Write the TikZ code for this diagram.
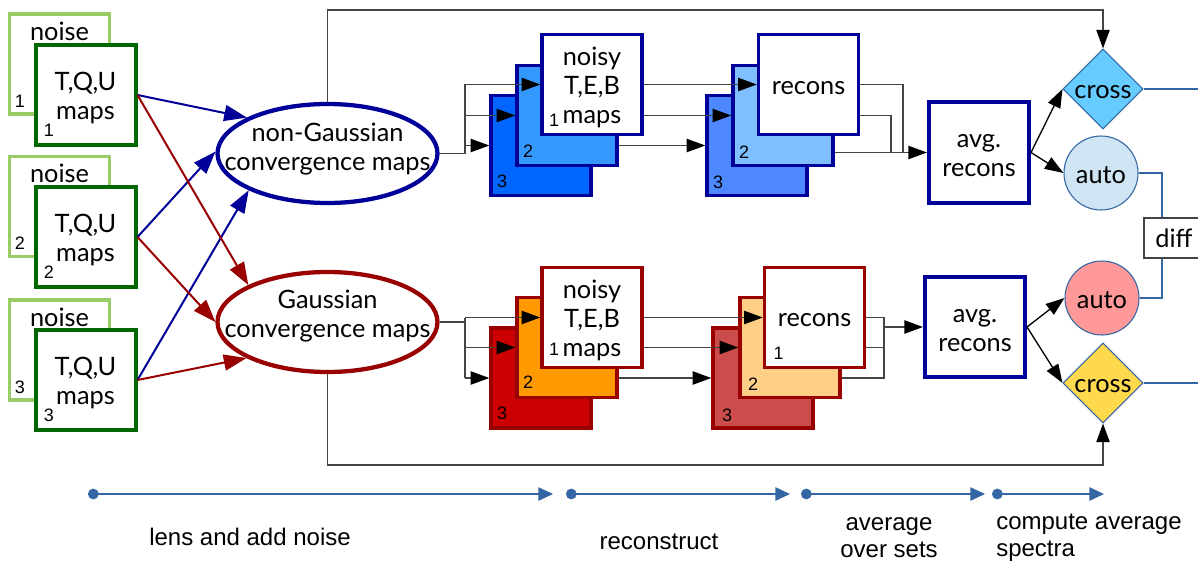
\documentclass[tikz,border=0pt]{standalone}
\usepackage{fontspec}
\setmainfont{Lato}
\newfontfamily\numfont{Liberation Sans}
\usetikzlibrary{shapes.geometric,arrows.meta}
\definecolor{lgreen}{HTML}{99CC66}
\definecolor{dgreen}{HTML}{006600}
\definecolor{bnavy}{HTML}{000099}
\definecolor{rdark}{HTML}{990000}
\definecolor{bthree}{HTML}{0066FF}
\definecolor{btwo}{HTML}{3399FF}
\definecolor{rbthree}{HTML}{4D88FF}
\definecolor{rbtwo}{HTML}{80BFFF}
\definecolor{rthree}{HTML}{CC0000}
\definecolor{rtwo}{HTML}{FF9900}
\definecolor{rrthree}{HTML}{CC4C4C}
\definecolor{rrtwo}{HTML}{FFCF87}
\definecolor{dgrey}{HTML}{444444}
\definecolor{lblue}{HTML}{3465A4}
\definecolor{crossblue}{HTML}{66CCFF}
\definecolor{crossyellow}{HTML}{FFD94D}
\definecolor{autoblue}{HTML}{CFE5F3}
\definecolor{autored}{HTML}{FF9999}
\begin{document}
\begin{tikzpicture}[x=0.75pt,y=-0.75pt,
  sq/.style={minimum width=75pt,minimum height=75pt,inner sep=0pt},
  lbl/.style={font=\fontsize{19}{21.75}\selectfont,align=center,inner sep=0pt},
  noisebox/.style={sq,draw=lgreen,line width=2.5pt,fill=white},
  tqubox/.style={sq,draw=dgreen,line width=3pt,fill=white},
  bstack/.style={sq,draw=bnavy,line width=2.6pt},
  rstack/.style={sq,draw=rdark,line width=2.6pt},
  avgbox/.style={sq,draw=bnavy,line width=3pt,fill=white},
  num/.style={font=\numfont\fontsize{13.5}{15}\selectfont,inner sep=0pt},
  thinline/.style={draw=dgrey,line width=1pt},
  tip/.style={-{Triangle[length=14pt,width=10pt,color=black]}},
  carrow/.style={line width=1.5pt,-{Triangle[length=17pt,width=12pt]}},
  bline/.style={draw=lblue,line width=1pt},
  tline/.style={draw=lblue,line width=1.2pt,{Circle[length=8pt,width=8pt]}-{Triangle[length=11pt,width=10pt]}},
  tlabel/.style={font=\numfont\fontsize{18}{20.25}\selectfont,inner sep=0pt}
]
\useasboundingbox (0,0) rectangle (1198,563);

% input sets
\foreach \i/\ny/\ty in {1/64/95,2/206.5/237,3/350/380}{
  \node[noisebox] (noise\i) at (59.5,\ny) {};
  \node[lbl] (noiselbl\i) at (59.5,\ny-33) {noise};
  \node[num] (noisenum\i) at (20,\ny+37) {\i};
  \node[tqubox] (tqu\i) at (85.5,\ty) {};
  \node[lbl] (tqutxt\i) at ([yshift=-2.5pt]tqu\i.center) {T,Q,U\\maps};
  \node[num] (tqunum\i) at (49,\ty+35) {\i};
}

% convergence ellipses
\node[ellipse,draw=bnavy,line width=3.2pt,fill=white,minimum width=165pt,minimum height=74.25pt,inner sep=0pt] (ng) at (327.5,153.5) {};
\node[lbl] (ngt) at (327.5,149) {non-Gaussian\\convergence maps};
\node[ellipse,draw=rdark,line width=3.2pt,fill=white,minimum width=165pt,minimum height=75pt,inner sep=0pt] (g) at (327.5,322) {};
\node[lbl] (gt) at (327.5,316) {Gaussian\\convergence maps};

% coloured arrows
\draw[carrow,bnavy] (tqu1.east) -- (ng.156);
\draw[carrow,bnavy] (tqu2.east) -- (ng.179);
\draw[carrow,bnavy] (tqu3.east) -- (ng.205);
\draw[carrow,rdark] (tqu1.east) -- (g.155);
\draw[carrow,rdark] (tqu2.east) -- (g.180);
\draw[carrow,rdark] (tqu3.east) -- (g.204);

% blue stacks
\node[bstack,fill=bthree] (nb3) at (541,145.5) {};
\node[bstack,fill=btwo] (nb2) at (567,115.5) {};
\node[bstack,fill=white] (nb1) at (592,84.5) {};
\node[lbl] (nb1t) at ([yshift=-2.5pt]nb1.center) {noisy\\T,E,B\\maps};
\node[num] (nb3n) at ([shift={(-39,36)}]nb3.center) {3};
\node[num] (nb2n) at ([shift={(-39,36)}]nb2.center) {2};
\node[num] (nb1n) at ([shift={(-38,36)}]nb1.center) {1};
\node[bstack,fill=rbthree] (rb3) at (757,145.5) {};
\node[bstack,fill=rbtwo] (rb2) at (783,115.5) {};
\node[bstack,fill=white] (rb1) at (808.5,84.5) {};
\node[lbl] (rb1t) at ([yshift=-3pt]rb1.center) {recons};
\node[num] (rb3n) at ([shift={(-39,37)}]rb3.center) {3};
\node[num] (rb2n) at ([shift={(-39,37)}]rb2.center) {2};

% red stacks
\node[rstack,fill=rthree] (nr3) at (541,378) {};
\node[rstack,fill=rtwo] (nr2) at (567,347.5) {};
\node[rstack,fill=white] (nr1) at (592,317.5) {};
\node[lbl] (nr1t) at ([yshift=-2.5pt]nr1.center) {noisy\\T,E,B\\maps};
\node[num] (nr3n) at ([shift={(-39,35)}]nr3.center) {3};
\node[num] (nr2n) at ([shift={(-39,35)}]nr2.center) {2};
\node[num] (nr1n) at ([shift={(-38,32)}]nr1.center) {1};
\node[rstack,fill=rrthree] (rr3) at (763,378) {};
\node[rstack,fill=rrtwo] (rr2) at (790,347.5) {};
\node[rstack,fill=white] (rr1) at (814.5,317.5) {};
\node[lbl] (rr1t) at ([yshift=-2pt]rr1.center) {recons};
\node[num] (rr3n) at ([shift={(-36,37)}]rr3.center) {3};
\node[num] (rr2n) at ([shift={(-37,37)}]rr2.center) {2};
\node[num] (rr1n) at ([shift={(-36,36)}]rr1.center) {1};

% average boxes
\node[avgbox] (avgb) at (979,152.5) {};
\node[lbl] (avgbt) at ([yshift=-2.5pt]avgb.center) {avg.\\recons};
\node[avgbox] (avgr) at (975,327) {};
\node[lbl] (avgrt) at ([yshift=-2.5pt]avgr.center) {avg.\\recons};

% spectra
\node[diamond,draw=lblue,line width=0.8pt,fill=crossblue,minimum width=60pt,minimum height=60pt,inner sep=0pt] (crossb) at (1103,89) {};
\node[lbl] (crossbt) at ([yshift=-2pt]crossb.center) {cross};
\node[circle,draw=lblue,line width=0.8pt,fill=autoblue,minimum size=55.5pt,inner sep=0pt] (autob) at (1101,173) {};
\node[lbl] (autobt) at ([yshift=-1.5pt]autob.center) {auto};
\node[circle,draw=lblue,line width=0.8pt,fill=autored,minimum size=55.5pt,inner sep=0pt] (autor) at (1102,298) {};
\node[lbl] (autort) at ([yshift=-1.5pt]autor.center) {auto};
\node[diamond,draw=lblue,line width=0.8pt,fill=crossyellow,minimum width=60pt,minimum height=60pt,inner sep=0pt] (crossr) at (1103,383) {};
\node[lbl] (crossrt) at ([yshift=-2pt]crossr.center) {cross};
\node[lbl,draw=dgrey,line width=0.8pt,fill=white,minimum width=45pt,minimum height=30pt] (diff) at (1174,238) {diff};

% loops to cross
\coordinate (topy) at (0,10);
\coordinate (boty) at (0,465);
\draw[thinline,tip] (ng.north) -- (ng.north |- topy) -| (crossb.north);
\draw[thinline,tip] (g.south) -- (g.south |- boty) -| (crossr.south);

% ellipse to noisy stacks
\coordinate (bj) at (465,153.5);
\draw[thinline] (ng.east) -- (bj) -- (bj |- nb1);
\draw[thinline,tip] (bj |- nb1) -- (nb1.west);
\draw[thinline,tip] (bj |- nb2) -- (nb2.west);
\draw[thinline,tip] (bj |- nb3) -- (nb3.west);
\coordinate (rj) at (465,322);
\draw[thinline] (g.east) -- (rj);
\draw[thinline] (rj |- nr1) -- (rj |- nr3);
\draw[thinline,tip] (rj |- nr1) -- (nr1.west);
\draw[thinline,tip] (rj |- nr2) -- (nr2.west);
\draw[thinline,tip] (rj |- nr3) -- (nr3.west);

% noisy to recons
\draw[thinline,tip] (nb1.east) -- (rb1.west);
\draw[thinline,tip] (nb1.east |- rb2) -- (rb2.west);
\draw[thinline,tip] (nb2.east |- rb3) -- (rb3.west);
\draw[thinline,tip] (nr1.east) -- (rr1.west);
\draw[thinline,tip] (nr1.east |- rr2) -- (rr2.west);
\draw[thinline,tip] (nr2.east |- rr3) -- (rr3.west);

% recons to average
\coordinate (baa) at (903,0);
\coordinate (bab) at (891,0);
\draw[thinline] (rb1.east) -| (baa |- avgb);
\draw[thinline] (rb1.east |- rb2) -| (bab |- avgb);
\draw[thinline,tip] (rb2.east |- avgb) -- (avgb.west);
\coordinate (ra) at (884,0);
\draw[thinline] (rr1.east) -- (ra |- rr1) -- (ra |- rr3) -- (rr2.east |- rr3);
\draw[thinline] (rr1.east |- rr2) -- (ra |- rr2);
\draw[thinline,tip] (ra |- avgr) -- (avgr.west);

% average to spectra
\draw[thinline,draw=black,tip] (avgb.east) -- (crossb.west);
\draw[thinline,draw=black,tip] (avgb.east) -- (autob.west);
\draw[thinline,draw=black,tip] (avgr.east) -- (autor.west);
\draw[thinline,draw=black,tip] (avgr.east) -- (crossr.west);

% right side lines
\coordinate (redge) at (1205,0);
\draw[bline] (crossb.east) -- (crossb.east -| redge);
\draw[bline] (crossr.east) -- (crossr.east -| redge);
\draw[bline] (autob.east) -| ([xshift=-9pt]diff.north);
\draw[bline] (autor.east) -| ([xshift=-9pt]diff.south);

% timeline
\coordinate (ta) at (88,494);
\coordinate (tb) at (553,494);
\coordinate (tc) at (566,494);
\coordinate (td) at (790,494);
\coordinate (te) at (801,494);
\coordinate (tf) at (985,494);
\coordinate (tg) at (992,494);
\coordinate (th) at (1104,494);
\draw[tline,fill=lblue] (ta) -- (tb);
\draw[tline,fill=lblue] (tc) -- (td);
\draw[tline,fill=lblue] (te) -- (tf);
\draw[tline,fill=lblue] (tg) -- (th);
\node[tlabel] (tla) at (250,537) {lens and add noise};
\node[tlabel] (tlb) at (659,542) {reconstruct};
\node[tlabel,align=center] (tlc) at (889,538) {average\\over sets};
\node[tlabel,align=left,anchor=west] (tld) at (996,538) {compute average\\spectra};
\end{tikzpicture}
\end{document}
